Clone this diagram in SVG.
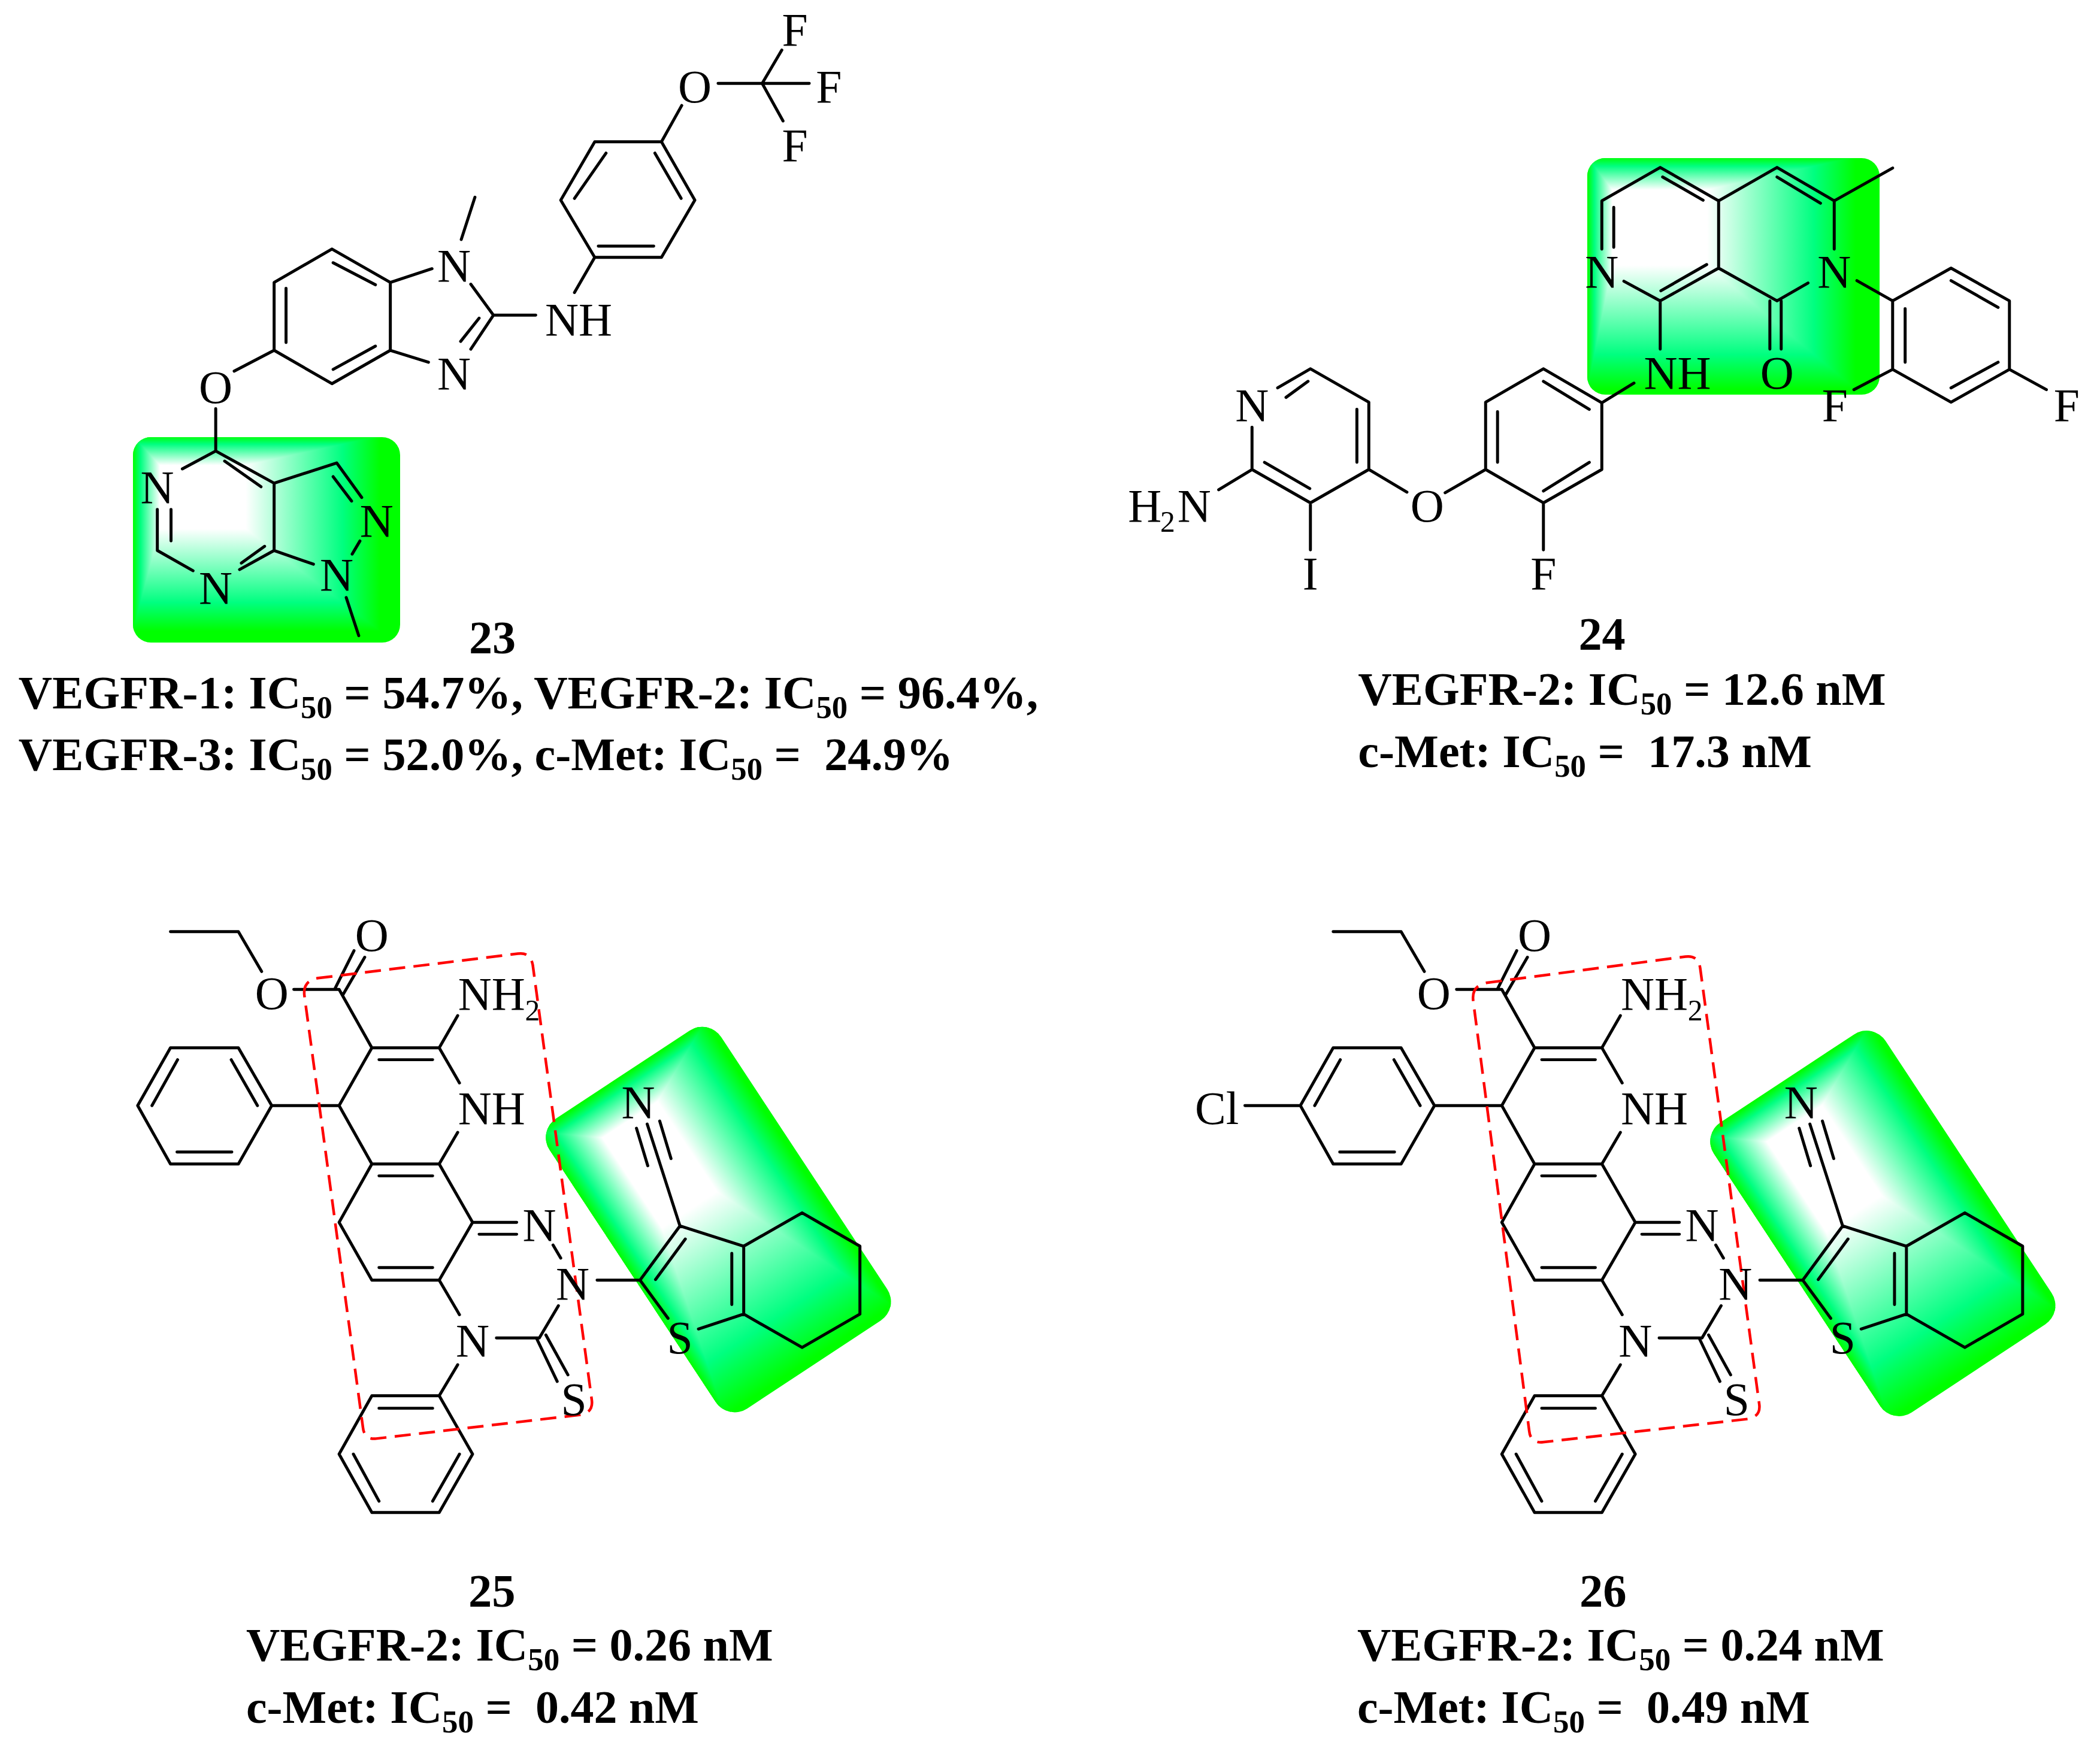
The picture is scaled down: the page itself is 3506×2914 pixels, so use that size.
<svg xmlns="http://www.w3.org/2000/svg" xmlns:xlink="http://www.w3.org/1999/xlink" width="3506" height="2914" viewBox="0 0 3506 2914">
<style>
.b{fill:none;stroke:#000;stroke-width:5;stroke-linecap:round;stroke-linejoin:round}
.a{font-family:"Liberation Serif","Times New Roman",serif;font-size:78px;fill:#000;text-anchor:middle}
.s{font-family:"Liberation Serif","Times New Roman",serif;font-size:50px;fill:#000}
.t{font-family:"Liberation Serif","Times New Roman",serif;font-size:78.6px;font-weight:bold;fill:#000;white-space:pre}
.t2{font-size:78px}
.ts{font-size:53px}
.r{fill:none;stroke:#f00;stroke-width:4.5;stroke-dasharray:27 14}
.base{fill:#0f0}
.f{shape-rendering:crispEdges}
</style>
<defs>
<linearGradient id="gL" x1="1" y1="0" x2="0" y2="0"><stop offset="0" stop-color="#fff"/><stop offset=".72" stop-color="#00ff80"/><stop offset="1" stop-color="#0f0"/></linearGradient>
<linearGradient id="gR" x1="0" y1="0" x2="1" y2="0"><stop offset="0" stop-color="#fff"/><stop offset=".72" stop-color="#00ff80"/><stop offset="1" stop-color="#0f0"/></linearGradient>
<linearGradient id="gT" x1="0" y1="1" x2="0" y2="0"><stop offset="0" stop-color="#fff"/><stop offset=".72" stop-color="#00ff80"/><stop offset="1" stop-color="#0f0"/></linearGradient>
<linearGradient id="gB" x1="0" y1="0" x2="0" y2="1"><stop offset="0" stop-color="#fff"/><stop offset=".72" stop-color="#00ff80"/><stop offset="1" stop-color="#0f0"/></linearGradient>
<clipPath id="c23"><rect x="222" y="730" width="446" height="343" rx="30"/></clipPath>
<clipPath id="c24"><rect x="2650" y="264" width="488" height="395" rx="30"/></clipPath>
<clipPath id="cR"><rect x="-290" y="2070.5" width="343" height="580" rx="38"/></clipPath>
<g id="hlR" transform="rotate(-33.37)">
<rect class="base" x="-290" y="2070.5" width="343" height="580" rx="38"/>
<g clip-path="url(#cR)">
<polygon class="f" fill="url(#gL)" points="-290,2072 -205,2140 -205,2320 -290,2640"/>
<polygon class="f" fill="url(#gR)" points="45,2072 -95,2140 -95,2320 45,2640"/>
<polygon class="f" fill="url(#gT)" points="-290,2072 45,2072 -95,2140 -205,2140"/>
<polygon class="f" fill="url(#gB)" points="-290,2640 45,2640 -95,2320 -205,2320"/>
<rect class="f" fill="#fff" x="-205" y="2140" width="110" height="180"/>
</g>
</g>
</defs>
<rect width="3506" height="2914" fill="#fff"/>

<g id="highlights">
<g id="highlight-23">
<rect class="base" x="222" y="730" width="446" height="343" rx="30"/>
<g clip-path="url(#c23)">
<polygon class="f" fill="url(#gL)" points="222,728 267,777 267,883 222,1054"/>
<polygon class="f" fill="url(#gR)" points="635,728 410,777 410,883 635,1054"/>
<polygon class="f" fill="url(#gT)" points="222,728 635,728 410,777 267,777"/>
<polygon class="f" fill="url(#gB)" points="222,1054 635,1054 410,883 267,883"/>
<rect class="f" fill="#fff" x="267" y="777" width="143" height="106"/>
</g>
</g>
<g id="highlight-24">
<rect class="base" x="2650" y="264" width="488" height="395" rx="30"/>
<g clip-path="url(#c24)">
<polygon class="f" fill="url(#gL)" points="2650,262 2692,317 2692,443 2650,650"/>
<polygon class="f" fill="url(#gR)" points="3098,262 2850,317 2850,443 3098,650"/>
<polygon class="f" fill="url(#gT)" points="2650,262 3098,262 2850,317 2692,317"/>
<polygon class="f" fill="url(#gB)" points="2650,650 3098,650 2850,443 2692,443"/>
<rect class="f" fill="#fff" x="2692" y="317" width="158" height="126"/>
</g>
</g>
<g id="highlight-25"><use href="#hlR" xlink:href="#hlR"/></g>
<g id="highlight-26"><use href="#hlR" xlink:href="#hlR" transform="translate(1944 6.5)"/></g>
</g>

<g id="connectors">
<path id="bonds-23" class="b" transform="scale(.9949)" d="M1205 140H1279M1279 140H1358M1279 140L1312 84M1279 140L1314 203M1144 177L1110 238M998 238H1110L1166 336L1110 432H998L941 336ZM1099 257L1143 333M1017 257L964 333M1004 413H1097M998 432L964 491M828 529H899M828 529L790 477M828 529L790 586M804 534L773 573M655 474L725 451M774 402L797 331M655 588L719 608M557 418L655 474V588L557 644L460 588V474ZM559 441L630 478M559 620L630 581M480 484V575M460 588L393 623M362 686V757M362 757L460 811V924L402 956M324 958L264 924V855M362 757L306 787M377 774L438 817M287 855V908M405 945L444 917M460 811L565 777L607 835M559 800L590 841M604 908L591 930M460 924L526 947M581 1003L602 1067"/>
<path id="bonds-24" class="b" transform="translate(8.94 1.02) scale(.9949)" d="M2679 417V336L2777 280L2875 336V449L2777 504L2716 471M2699 347V414M2781 296L2849 335M2778 487L2855 443M2875 336L2973 280L3069 336V417M3025 474L2973 504L2875 449M2973 296L3046 340M3069 336L3167 281M2961 504V585M2980 504V585M3107 470L3167 504M3167 504L3265 449L3363 504V619L3265 674L3167 619ZM3265 470L3344 515M3344 607L3265 650M3188 517V607M3167 619L3102 653M3363 619L3425 653M2777 504V585M2733 642L2679 675L2581 618L2484 674V787L2581 843L2679 787V675M2581 639L2658 686M2504 690V775M2581 823L2658 775M2581 843V922M2484 787L2416 826M2352 825L2288 787V674L2190 618L2135 650M2186 639L2149 666M2268 686V775M2092 716V787L2190 843L2288 787M2113 775L2189 819M2190 843V922M2092 787L2036 821"/>
<path id="bonds-25" class="b" transform="translate(1.02 7.65) scale(.9949)" d="M285 1556H399L438 1623M492 1653H568L623 1751H736M561 1652L593 1588M575 1661L611 1599M635 1771H725M736 1751L767 1697M736 1751L770 1810M767 1893L736 1946L792 2044M623 1751L568 1848L623 1946H736M635 1966H725M792 2044H866M803 2064H866M927 2082L940 2104M792 2044L736 2141H623L568 2044L623 1946M635 2120H725M736 2141L770 2199M832 2238H904L936 2184M900 2240L934 2311M915 2233L952 2300M767 2283L736 2335H623L568 2433L623 2531H736L792 2433L736 2335M635 2356H725M592 2433L635 2512M770 2433L725 2512M568 1848H455L399 1751H285L230 1848L285 1946H399L455 1848M387 1771L431 1848M254 1848L297 1771M296 1926H388M1001 2141H1073L1140 2050L1247 2084V2198L1171 2223M1073 2141L1120 2205M1099 2140L1149 2072M1227 2096V2182M1247 2084L1345 2028L1442 2084V2198L1345 2254L1247 2198M1140 2050L1085 1879M1067 1886L1086 1949M1106 1874L1125 1937"/>
<path id="bonds-26" class="b" transform="translate(10.1 7.65) scale(.9949) translate(1942 0)" d="M285 1556H399L438 1623M492 1653H568L623 1751H736M561 1652L593 1588M575 1661L611 1599M635 1771H725M736 1751L767 1697M736 1751L770 1810M767 1893L736 1946L792 2044M623 1751L568 1848L623 1946H736M635 1966H725M792 2044H866M803 2064H866M927 2082L940 2104M792 2044L736 2141H623L568 2044L623 1946M635 2120H725M736 2141L770 2199M832 2238H904L936 2184M900 2240L934 2311M915 2233L952 2300M767 2283L736 2335H623L568 2433L623 2531H736L792 2433L736 2335M635 2356H725M592 2433L635 2512M770 2433L725 2512M568 1848H455L399 1751H285L230 1848L285 1946H399L455 1848M387 1771L431 1848M254 1848L297 1771M296 1926H388M1001 2141H1073L1140 2050L1247 2084V2198L1171 2223M1073 2141L1120 2205M1099 2140L1149 2072M1227 2096V2182M1247 2084L1345 2028L1442 2084V2198L1345 2254L1247 2198M1140 2050L1085 1879M1067 1886L1086 1949M1106 1874L1125 1937M137 1848H230"/>
<path id="frame-25" class="r" transform="translate(1.02 7.65) scale(.9949)" d="M510 1665Q506 1638 533 1634L868 1593Q889 1590 893 1612L992 2342Q995 2363 973 2367L630 2407Q610 2409 608 2388Z"/>
<path id="frame-26" class="r" transform="translate(10.1 7.65) scale(.9949)" d="M2462 1672Q2459 1647 2484 1642L2818 1598Q2840 1595 2843 1618L2942 2349Q2945 2370 2923 2374L2579 2413Q2558 2415 2556 2394Z"/>
</g>

<g id="compound-23" transform="scale(.9949)">
<text class="a" x="1334" y="76">F</text><text class="a" x="1391" y="172">F</text><text class="a" x="1334" y="270">F</text><text class="a" x="1166" y="172">O</text>
<text class="a" x="971" y="563">NH</text><text class="a" x="762" y="472">N</text><text class="a" x="762" y="653">N</text><text class="a" x="362" y="676">O</text>
<text class="a" x="264" y="844">N</text><text class="a" x="362" y="1013">N</text><text class="a" x="632" y="901">N</text><text class="a" x="565" y="991">N</text>
<text class="t" x="787" y="1097">23</text>
<text class="t" x="31" y="1189">VEGFR-1: IC<tspan class="ts" dy="16">50</tspan><tspan dy="-16"> = 54.7%, VEGFR-2: IC</tspan><tspan class="ts" dy="16">50</tspan><tspan dy="-16"> = 96.4%,</tspan></text>
<text class="t" x="31" y="1293">VEGFR-3: IC<tspan class="ts" dy="16">50</tspan><tspan dy="-16"> = 52.0%, c-Met: IC</tspan><tspan class="ts" dy="16">50</tspan><tspan dy="-16"> =  24.9%</tspan></text>
</g>

<g id="compound-24" transform="translate(8.94 1.02) scale(.9949)">
<text class="a" x="2679" y="481">N</text><text class="a" x="3069" y="481">N</text><text class="a" x="2806" y="651">NH</text><text class="a" x="2973" y="651">O</text>
<text class="a" x="3070" y="706">F</text><text class="a" x="3459" y="706">F</text><text class="a" x="2581" y="988">F</text><text class="a" x="2386" y="874">O</text>
<text class="a" x="2092" y="706">N</text><text class="a" x="2190" y="988">I</text>
<text class="a" x="1995" y="874">N</text><text class="a" x="1912" y="874">H</text><text class="s" x="1938" y="892">2</text>
<text class="t" x="2640" y="1090">24</text>
<text class="t" x="2270" y="1182">VEGFR-2: IC<tspan class="ts" dy="16">50</tspan><tspan dy="-16"> = 12.6 nM</tspan></text>
<text class="t" x="2270" y="1287">c-Met: IC<tspan class="ts" dy="16">50</tspan><tspan dy="-16"> =  17.3 nM</tspan></text>
</g>

<g id="compound-25">
<g transform="translate(1.02 7.65) scale(.9949)">
<text class="a" x="455" y="1686">O</text><text class="a" x="623" y="1588">O</text>
<text class="a" x="824" y="1687">NH</text><text class="s" x="880" y="1705">2</text>
<text class="a" x="824" y="1879">NH</text><text class="a" x="904" y="2075">N</text><text class="a" x="960" y="2173">N</text><text class="a" x="792" y="2269">N</text><text class="a" x="962" y="2367">S</text>
<text class="a" x="1070" y="1869">N</text><text class="a" x="1140" y="2264">S</text>
</g>
<text class="t" x="782" y="2683">25</text>
<text class="t t2" x="411" y="2773">VEGFR-2: IC<tspan class="ts" dy="16">50</tspan><tspan dy="-16"> = 0.26 nM</tspan></text>
<text class="t t2" x="411" y="2877">c-Met: IC<tspan class="ts" dy="16">50</tspan><tspan dy="-16"> =  0.42 nM</tspan></text>
</g>

<g id="compound-26">
<g transform="translate(10.1 7.65) scale(.9949)">
<text class="a" x="2396" y="1686">O</text><text class="a" x="2565" y="1588">O</text>
<text class="a" x="2766" y="1687">NH</text><text class="s" x="2822" y="1705">2</text>
<text class="a" x="2766" y="1879">NH</text><text class="a" x="2846" y="2075">N</text><text class="a" x="2902" y="2173">N</text><text class="a" x="2734" y="2269">N</text><text class="a" x="2904" y="2367">S</text>
<text class="a" x="3012" y="1869">N</text><text class="a" x="3082" y="2264">S</text><text class="a" x="2032" y="1879">Cl</text>
</g>
<text class="t" x="2637" y="2683">26</text>
<text class="t t2" x="2266" y="2773">VEGFR-2: IC<tspan class="ts" dy="16">50</tspan><tspan dy="-16"> = 0.24 nM</tspan></text>
<text class="t t2" x="2266" y="2877">c-Met: IC<tspan class="ts" dy="16">50</tspan><tspan dy="-16"> =  0.49 nM</tspan></text>
</g>
</svg>
